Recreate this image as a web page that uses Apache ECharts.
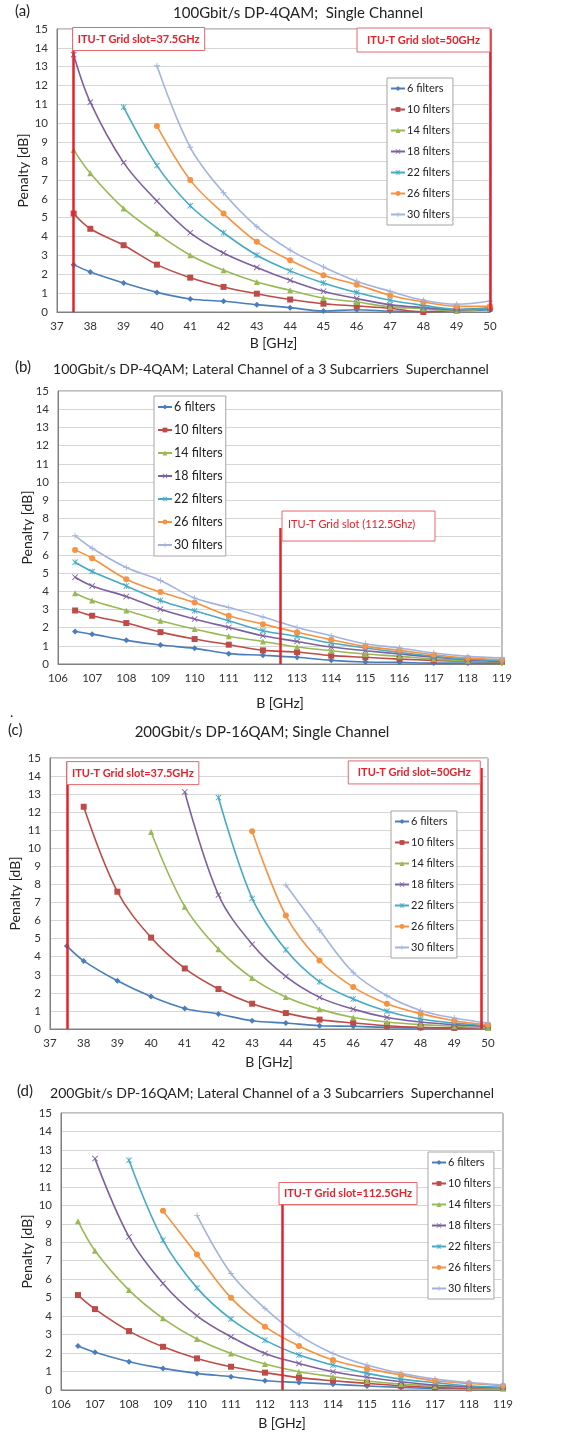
<!DOCTYPE html>
<html>
<head>
<meta charset="utf-8">
<script src="https://cdn.jsdelivr.net/npm/echarts@6/dist/echarts.min.js"></script>
<style>
html,body{margin:0;padding:0;background:#fff;}
#c{width:567px;height:1434px;}
</style>
</head>
<body>
<div id="c"></div>
<script>
// ---------- DATA ----------
const filterNames = ['6 filters','10 filters','14 filters','18 filters','22 filters','26 filters','30 filters'];

const yTicks = [0,1,2,3,4,5,6,7,8,9,10,11,12,13,14,15];

// Panel (a): 100Gbit/s DP-4QAM; Single Channel
const xA = [37.5,38,39,40,41,42,43,44,45,46,47,48,49,50];
const a6  = [2.51,2.12,1.54,1.04,0.69,0.57,0.39,0.23,0.05,0.12,0.05,0.02,0.05,0.12];
const a10 = [5.22,4.41,3.54,2.51,1.82,1.33,0.97,0.66,0.44,0.32,0.20,0.00,0.10,0.22];
const a14 = [8.59,7.35,5.49,4.16,3.01,2.21,1.59,1.15,0.74,0.53,0.27,0.18,0.05,0.20];
const a18 = [13.64,11.12,7.92,5.88,4.20,3.13,2.36,1.68,1.10,0.71,0.39,0.23,0.12,0.18];
const a22 = [null,null,10.86,7.76,5.63,4.20,3.01,2.18,1.54,1.03,0.62,0.35,0.14,0.18];
const a26 = [null,null,null,9.86,6.99,5.22,3.72,2.74,1.95,1.45,0.89,0.53,0.30,0.30];
const a30 = [null,null,null,13.05,8.73,6.32,4.52,3.28,2.39,1.63,1.10,0.62,0.41,0.58];

// Panel (b): 100Gbit/s DP-4QAM; Lateral Channel
const xB = [106.5,107,108,109,110,111,112,113,114,115,116,117,118,119];
const b6  = [1.79,1.64,1.30,1.04,0.86,0.57,0.48,0.37,0.20,0.11,0.09,0.05,0.05,0.05];
const b10 = [2.94,2.65,2.25,1.75,1.37,1.06,0.75,0.66,0.46,0.37,0.27,0.20,0.15,0.11];
const b14 = [3.89,3.49,2.94,2.38,1.92,1.52,1.24,0.93,0.73,0.55,0.42,0.27,0.18,0.13];
const b18 = [4.77,4.29,3.71,3.01,2.47,2.01,1.55,1.24,0.93,0.73,0.55,0.38,0.24,0.15];
const b22 = [5.59,5.08,4.29,3.49,2.92,2.38,1.83,1.52,1.15,0.88,0.64,0.42,0.27,0.20];
const b26 = [6.27,5.81,4.66,3.95,3.38,2.65,2.19,1.74,1.33,0.97,0.75,0.51,0.33,0.24];
const b30 = [7.05,6.36,5.30,4.59,3.62,3.11,2.58,2.01,1.55,1.11,0.88,0.60,0.42,0.33];

// Panel (c): 200Gbit/s DP-16QAM; Single Channel
const xC = [37.5,38,39,40,41,42,43,44,45,46,47,48,49,50];
const c6  = [4.60,3.77,2.67,1.80,1.14,0.83,0.46,0.33,0.18,0.15,0.09,0.06,0.06,0.06];
const c10 = [null,12.30,7.60,5.06,3.35,2.21,1.40,0.88,0.52,0.33,0.18,0.09,0.06,0.09];
const c14 = [null,null,null,10.90,6.77,4.42,2.82,1.77,1.10,0.64,0.39,0.24,0.15,0.06];
const c18 = [null,null,null,null,13.12,7.42,4.69,2.91,1.75,1.10,0.64,0.39,0.24,0.15];
const c22 = [null,null,null,null,null,12.81,7.23,4.38,2.61,1.66,0.98,0.55,0.33,0.18];
const c26 = [null,null,null,null,null,null,10.95,6.28,3.79,2.32,1.40,0.85,0.46,0.24];
const c30 = [null,null,null,null,null,null,null,7.97,5.48,3.13,1.84,1.03,0.61,0.33];

// Panel (d): 200Gbit/s DP-16QAM; Lateral Channel
const xD = [106.5,107,108,109,110,111,112,113,114,115,116,117,118,119];
const d6  = [2.38,2.04,1.53,1.17,0.90,0.72,0.50,0.41,0.31,0.22,0.14,0.09,0.09,0.09];
const d10 = [5.14,4.38,3.19,2.34,1.71,1.26,0.94,0.67,0.50,0.36,0.23,0.14,0.09,0.09];
const d14 = [9.14,7.54,5.41,3.88,2.76,1.98,1.41,0.99,0.72,0.49,0.32,0.22,0.14,0.09];
const d18 = [null,12.53,8.29,5.77,4.02,2.88,1.98,1.44,0.99,0.69,0.45,0.27,0.18,0.13];
const d22 = [null,null,12.44,8.11,5.53,3.84,2.70,1.89,1.35,0.90,0.59,0.40,0.23,0.14];
const d26 = [null,null,null,9.70,7.34,4.99,3.43,2.38,1.62,1.17,0.81,0.50,0.36,0.23];
const d30 = [null,null,null,null,9.46,6.31,4.42,2.97,1.98,1.35,0.90,0.59,0.40,0.27];

// ITU-T grid slot markers: [x value, top y value, label]
const slotA = [[37.5, 15, 'ITU-T Grid slot=37.5GHz'], [50, 15, 'ITU-T Grid slot=50GHz']];
const slotB = [[112.5, 7.47, 'ITU-T Grid slot (112.5Ghz)']];
const slotC = [[37.5, 14.8, 'ITU-T Grid slot=37.5GHz'], [49.8, 14.45, 'ITU-T Grid slot=50GHz']];
const slotD = [[112.5, 10.1, 'ITU-T Grid slot=112.5GHz']];

const titles = [
  '100Gbit/s DP-4QAM;  Single Channel',
  '100Gbit/s DP-4QAM; Lateral Channel of a 3 Subcarriers  Superchannel',
  '200Gbit/s DP-16QAM; Single Channel',
  '200Gbit/s DP-16QAM; Lateral Channel of a 3 Subcarriers  Superchannel'
];
const panelTags = ['(a)','(b)','(c)','(d)'];

// ---------- STYLE ----------
const FONT = 'Lato, "Open Sans", "Noto Sans", sans-serif';
const COLORS = ['#4A7EBB','#BE4B48','#98B954','#7D60A0','#46AAC5','#F69240','#A3B3DE'];
const X_PATH = 'path://M1,0 L5,4 L9,0 L10,1 L6,5 L10,9 L9,10 L5,6 L1,10 L0,9 L4,5 L0,1 Z';
const STAR_PATH = 'path://M1,0 L4.4,3.4 L4.4,0 L5.6,0 L5.6,3.4 L9,0 L10,1 L6,5 L10,9 L9,10 L5.6,6.6 L5.6,10 L4.4,10 L4.4,6.6 L1,10 L0,9 L4,5 L0,1 Z';
const PLUS_PATH = 'path://M4.3,0 H5.7 V4.3 H10 V5.7 H5.7 V10 H4.3 V5.7 H0 V4.3 H4.3 Z';
const SYMBOLS = ['diamond','rect','triangle',X_PATH,STAR_PATH,'circle',PLUS_PATH];
const SYMSIZE = [6,6,6,6,6,6,6];
const RED = '#E3232B';

const panels = [
  {xs:xA, vals:[a6,a10,a14,a18,a22,a26,a30], min:37, max:50, slots:slotA,
   grid:{left:57, top:29, width:433, height:283},
   legend:{left:387, top:78, fs:11, lh:13, gap:8},
   title:{x:298, y:13, tagX:15}, yGap:27, xGap:24},
  {xs:xB, vals:[b6,b10,b14,b18,b22,b26,b30], min:106, max:119, slots:slotB,
   grid:{left:58, top:391, width:444, height:273},
   legend:{left:154, top:396, fs:12.5, lh:14, gap:9},
   title:{x:271, y:369, tagX:15}, yGap:24, xGap:32},
  {xs:xC, vals:[c6,c10,c14,c18,c22,c26,c30], min:37, max:50, slots:slotC,
   grid:{left:50, top:758, width:438, height:271},
   legend:{left:391, top:811, fs:11, lh:13, gap:8},
   title:{x:262, y:732, tagX:8}, yGap:28, xGap:26},
  {xs:xD, vals:[d6,d10,d14,d18,d22,d26,d30], min:106, max:119, slots:slotD,
   grid:{left:61, top:1113, width:442, height:277},
   legend:{left:428, top:1152, fs:11, lh:13, gap:8},
   title:{x:272, y:1093, tagX:17}, yGap:27, xGap:26}
];

const grid = [], xAxis = [], yAxis = [], legend = [], series = [], graphic = [];

panels.forEach((p, gi) => {
  grid.push(Object.assign({show:true, borderColor:'#808080', borderWidth:1, backgroundColor:'#fff'}, p.grid));
  xAxis.push({
    type:'value', gridIndex:gi, min:p.min, max:p.max, interval:1,
    name:'B [GHz]', nameLocation:'middle', nameGap:p.xGap, nameMoveOverlap:false,
    nameTextStyle:{fontFamily:FONT, fontSize:14, color:'#222'},
    axisLine:{show:true, lineStyle:{color:'#808080'}},
    axisTick:{show:false},
    splitLine:{show:false},
    axisLabel:{fontFamily:FONT, fontSize:11.5, color:'#333', margin:8}
  });
  yAxis.push({
    type:'value', gridIndex:gi, min:yTicks[0], max:yTicks[yTicks.length-1], interval:1,
    name:'Penalty [dB]', nameLocation:'middle', nameGap:p.yGap, nameMoveOverlap:false,
    nameTextStyle:{fontFamily:FONT, fontSize:14, color:'#222'},
    axisLine:{show:true, lineStyle:{color:'#808080'}},
    axisTick:{show:false},
    splitLine:{show:true, lineStyle:{color:'#D6D6D6', width:1.2}},
    axisLabel:{fontFamily:FONT, fontSize:11.5, color:'#333', margin:9}
  });
  legend.push({
    orient:'vertical', left:p.legend.left, top:p.legend.top,
    data:filterNames, backgroundColor:'#fff', borderColor:'#A6A6A6', borderWidth:1,
    padding:[4,3,4,3], itemWidth:14, itemHeight:6, itemGap:p.legend.gap,
    itemStyle:{borderWidth:0},
    textStyle:{fontFamily:FONT, fontSize:p.legend.fs, lineHeight:p.legend.lh, color:'#222', padding:[0,0,0,-3]},
    selectedMode:false
  });
  filterNames.forEach((nm, si) => {
    const data = [];
    p.xs.forEach((x, j) => { const v = p.vals[si][j]; if (v !== null) data.push([x, v]); });
    series.push({
      type:'line', name:nm, xAxisIndex:gi, yAxisIndex:gi, data:data,
      smooth:0.35, symbol:SYMBOLS[si], symbolSize:SYMSIZE[si], showSymbol:true,
      lineStyle:{color:COLORS[si], width:1.6}, itemStyle:{color:COLORS[si]},
      color:COLORS[si], silent:true, animation:false, z:3
    });
  });
  // red slot lines
  series.push({
    type:'line', xAxisIndex:gi, yAxisIndex:gi, data:[], silent:true, animation:false,
    markLine:{
      silent:true, symbol:['none','none'], animation:false,
      lineStyle:{color:RED, width:2.5, type:'solid'}, label:{show:false},
      data:p.slots.map(s => [{coord:[s[0],0]},{coord:[s[0],s[1]]}])
    }, z:5
  });
  // titles
  graphic.push({type:'text', left:p.title.tagX, top:p.title.y-9,
    style:{text:panelTags[gi], font:'15px '+FONT, fill:'#222'}});
  graphic.push({type:'text', x:p.title.x, y:p.title.y,
    style:{text:titles[gi], font:(gi%2? '14px ':'15px ')+FONT, fill:'#222', textAlign:'center', textVerticalAlign:'middle'}});
});
graphic.push({type:'text', left:10, top:705, style:{text:'.', font:'14px '+FONT, fill:'#222'}});

const chart = echarts.init(document.getElementById('c'), null, {renderer:'canvas'});
chart.setOption({backgroundColor:'#fff', animation:false, grid, xAxis, yAxis, legend, series, graphic});

// label boxes placed relative to slot lines via the axes
const boxSpec = [
  [{dx:-1, w:132, dy:-1.5, h:23, bold:true, align:'center'}, {dx:-133, w:133, dy:-1, h:24, bold:true, align:'center'}],
  [{dx:2, w:153, dy:-17, h:30, bold:false, align:'left'}],
  [{dx:0, w:132, dy:0, h:23, bold:true, align:'center'}, {dx:-133, w:132, dy:-7, h:23, bold:true, align:'center'}],
  [{dx:-3, w:138, dy:-21, h:22, bold:true, align:'center'}]
];
const extra = [];
panels.forEach((p, gi) => {
  p.slots.forEach((s, k) => {
    const pt = chart.convertToPixel({xAxisIndex:gi, yAxisIndex:gi}, [s[0], s[1]]);
    const b = boxSpec[gi][k];
    const x0 = pt[0] + b.dx, y0 = pt[1] + b.dy;
    extra.push({type:'rect', shape:{x:x0, y:y0, width:b.w, height:b.h}, z:10,
      style:{fill:'#fff', stroke:'#E8666C', lineWidth:1}});
    extra.push({type:'text', z:11,
      x: b.align === 'center' ? x0 + b.w/2 : x0 + 6, y: y0 + b.h/2 - (b.bold?0:2),
      style:{text:s[2], font:(b.bold?'bold ':'')+'11px '+FONT, fill:'#E8202A',
        textAlign:b.align, textVerticalAlign:'middle'}});
  });
});
chart.setOption({graphic: graphic.concat(extra)}, {replaceMerge:['graphic']});
</script>
</body>
</html>
